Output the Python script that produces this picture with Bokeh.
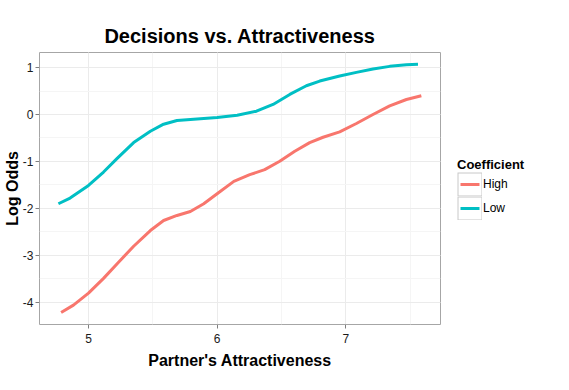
from bokeh.plotting import figure
from bokeh.layouts import row
from bokeh.models import (Range1d, SingleIntervalTicker, Legend, LegendItem, CustomJSTickFormatter)
from bokeh.embed import file_html
from bokeh.resources import INLINE

# ---- data ----
high_x = [4.787, 4.883, 5.000, 5.117, 5.221, 5.351, 5.481, 5.584, 5.688, 5.792, 5.896,
          6.000, 6.130, 6.254, 6.370, 6.487, 6.604, 6.720, 6.824, 6.953, 7.083, 7.212,
          7.342, 7.472, 7.588]
high_y = [-4.214, -4.057, -3.801, -3.488, -3.181, -2.804, -2.470, -2.256, -2.149, -2.064, -1.900,
          -1.687, -1.423, -1.281, -1.174, -0.996, -0.783, -0.598, -0.484, -0.370, -0.192, 0.000,
          0.185, 0.320, 0.399]
low_x = [4.766, 4.857, 5.000, 5.117, 5.221, 5.351, 5.481, 5.584, 5.688, 5.818, 6.000,
         6.156, 6.306, 6.435, 6.565, 6.694, 6.798, 6.953, 7.083, 7.212, 7.342, 7.472, 7.562]
low_y = [-1.900, -1.779, -1.509, -1.224, -0.940, -0.598, -0.356, -0.206, -0.128, -0.100, -0.064,
         -0.014, 0.071, 0.214, 0.427, 0.612, 0.712, 0.819, 0.897, 0.968, 1.025, 1.060, 1.068]
series_labels = ["High", "Low"]
series_colors = ["#F8766D", "#00BFC4"]

FONT = "Liberation Sans"

p = figure(width=445, height=390, output_backend="svg", toolbar_location=None,
           x_range=Range1d(4.619, 7.737), y_range=Range1d(-4.47, 1.32),
           min_border_left=39, min_border_right=5, min_border_top=52, min_border_bottom=66,
           title="Decisions vs. Attractiveness")

p.title.align = "center"
p.title.text_font = FONT
p.title.text_font_size = "20px"
p.title.text_font_style = "bold"
p.title.text_color = "#000000"
p.title.standoff = 12

p.background_fill_color = "white"
p.border_fill_color = "white"
p.outline_line_color = "#a6a6a6"
p.outline_line_width = 1

p.xaxis.ticker = SingleIntervalTicker(interval=1, num_minor_ticks=2)
p.yaxis.ticker = SingleIntervalTicker(interval=1, num_minor_ticks=2)
p.yaxis.formatter = CustomJSTickFormatter(code="return tick.toFixed(0);")
p.xaxis.formatter = CustomJSTickFormatter(code="return tick.toFixed(0);")

for ax in (p.xaxis, p.yaxis):
    ax.axis_line_color = None
    ax.major_tick_in = 0
    ax.major_tick_out = 4
    ax.major_tick_line_color = "#7f7f7f"
    ax.minor_tick_line_color = None
    ax.major_label_text_font = FONT
    ax.major_label_text_font_size = "12px"
    ax.major_label_text_color = "#1a1a1a"
    ax.axis_label_text_font = FONT
    ax.axis_label_text_font_size = "16px"
    ax.axis_label_text_font_style = "bold"
    ax.axis_label_text_color = "#000000"

p.xaxis.axis_label = "Partner's Attractiveness"
p.yaxis.axis_label = "Log Odds"
p.xaxis.major_label_standoff = 5
p.xaxis.axis_label_standoff = 6
p.yaxis.major_label_standoff = 2
p.yaxis.axis_label_standoff = -1

for g in (p.xgrid, p.ygrid):
    g.grid_line_color = "#ebebeb"
    g.grid_line_width = 1
    g.minor_grid_line_color = "#f5f5f5"
    g.minor_grid_line_width = 1

r_high = p.line(high_x, high_y, line_color=series_colors[0], line_width=3)
r_low = p.line(low_x, low_y, line_color=series_colors[1], line_width=3)

# ---- legend panel (ggplot-style keys: grey framed box with short coloured line) ----
lg = figure(width=124, height=390, output_backend="svg", toolbar_location=None,
            x_range=Range1d(0, 1), y_range=Range1d(0, 1),
            min_border=0, min_border_left=0, min_border_right=0,
            min_border_top=0, min_border_bottom=0)
lg.axis.visible = False
lg.grid.visible = False
lg.outline_line_color = None
lg.background_fill_color = "white"
lg.border_fill_color = "white"

items = []
for lab, col in zip(series_labels, series_colors):
    frame_r = lg.line(x=[0.5, 0.5], y=[0.5, 0.5], line_color="#c8c8c8", line_width=24,
                      visible=False)
    inner_r = lg.line(x=[0.5, 0.5], y=[0.5, 0.5], line_color="#ffffff", line_width=22,
                      line_dash="23 10", line_dash_offset=32, visible=False)
    key_r = lg.line(x=[0.5, 0.5], y=[0.5, 0.5], line_color=col, line_width=3,
                    line_dash="19 20", line_dash_offset=36, visible=False)
    items.append(LegendItem(label=lab, renderers=[frame_r, inner_r, key_r]))

legend = Legend(items=items, location=(12, 104), orientation="vertical",
                title="Coefficient", title_text_font=FONT, title_text_font_size="13px",
                title_text_font_style="bold", title_text_color="#000000", title_standoff=0,
                label_text_font=FONT, label_text_font_size="12px", label_text_color="#000000",
                label_standoff=1, glyph_width=25, glyph_height=24, spacing=0,
                padding=4, margin=0, border_line_color=None, background_fill_alpha=0)
lg.add_layout(legend)

open("out.html", "w").write(file_html(row(p, lg), INLINE))
